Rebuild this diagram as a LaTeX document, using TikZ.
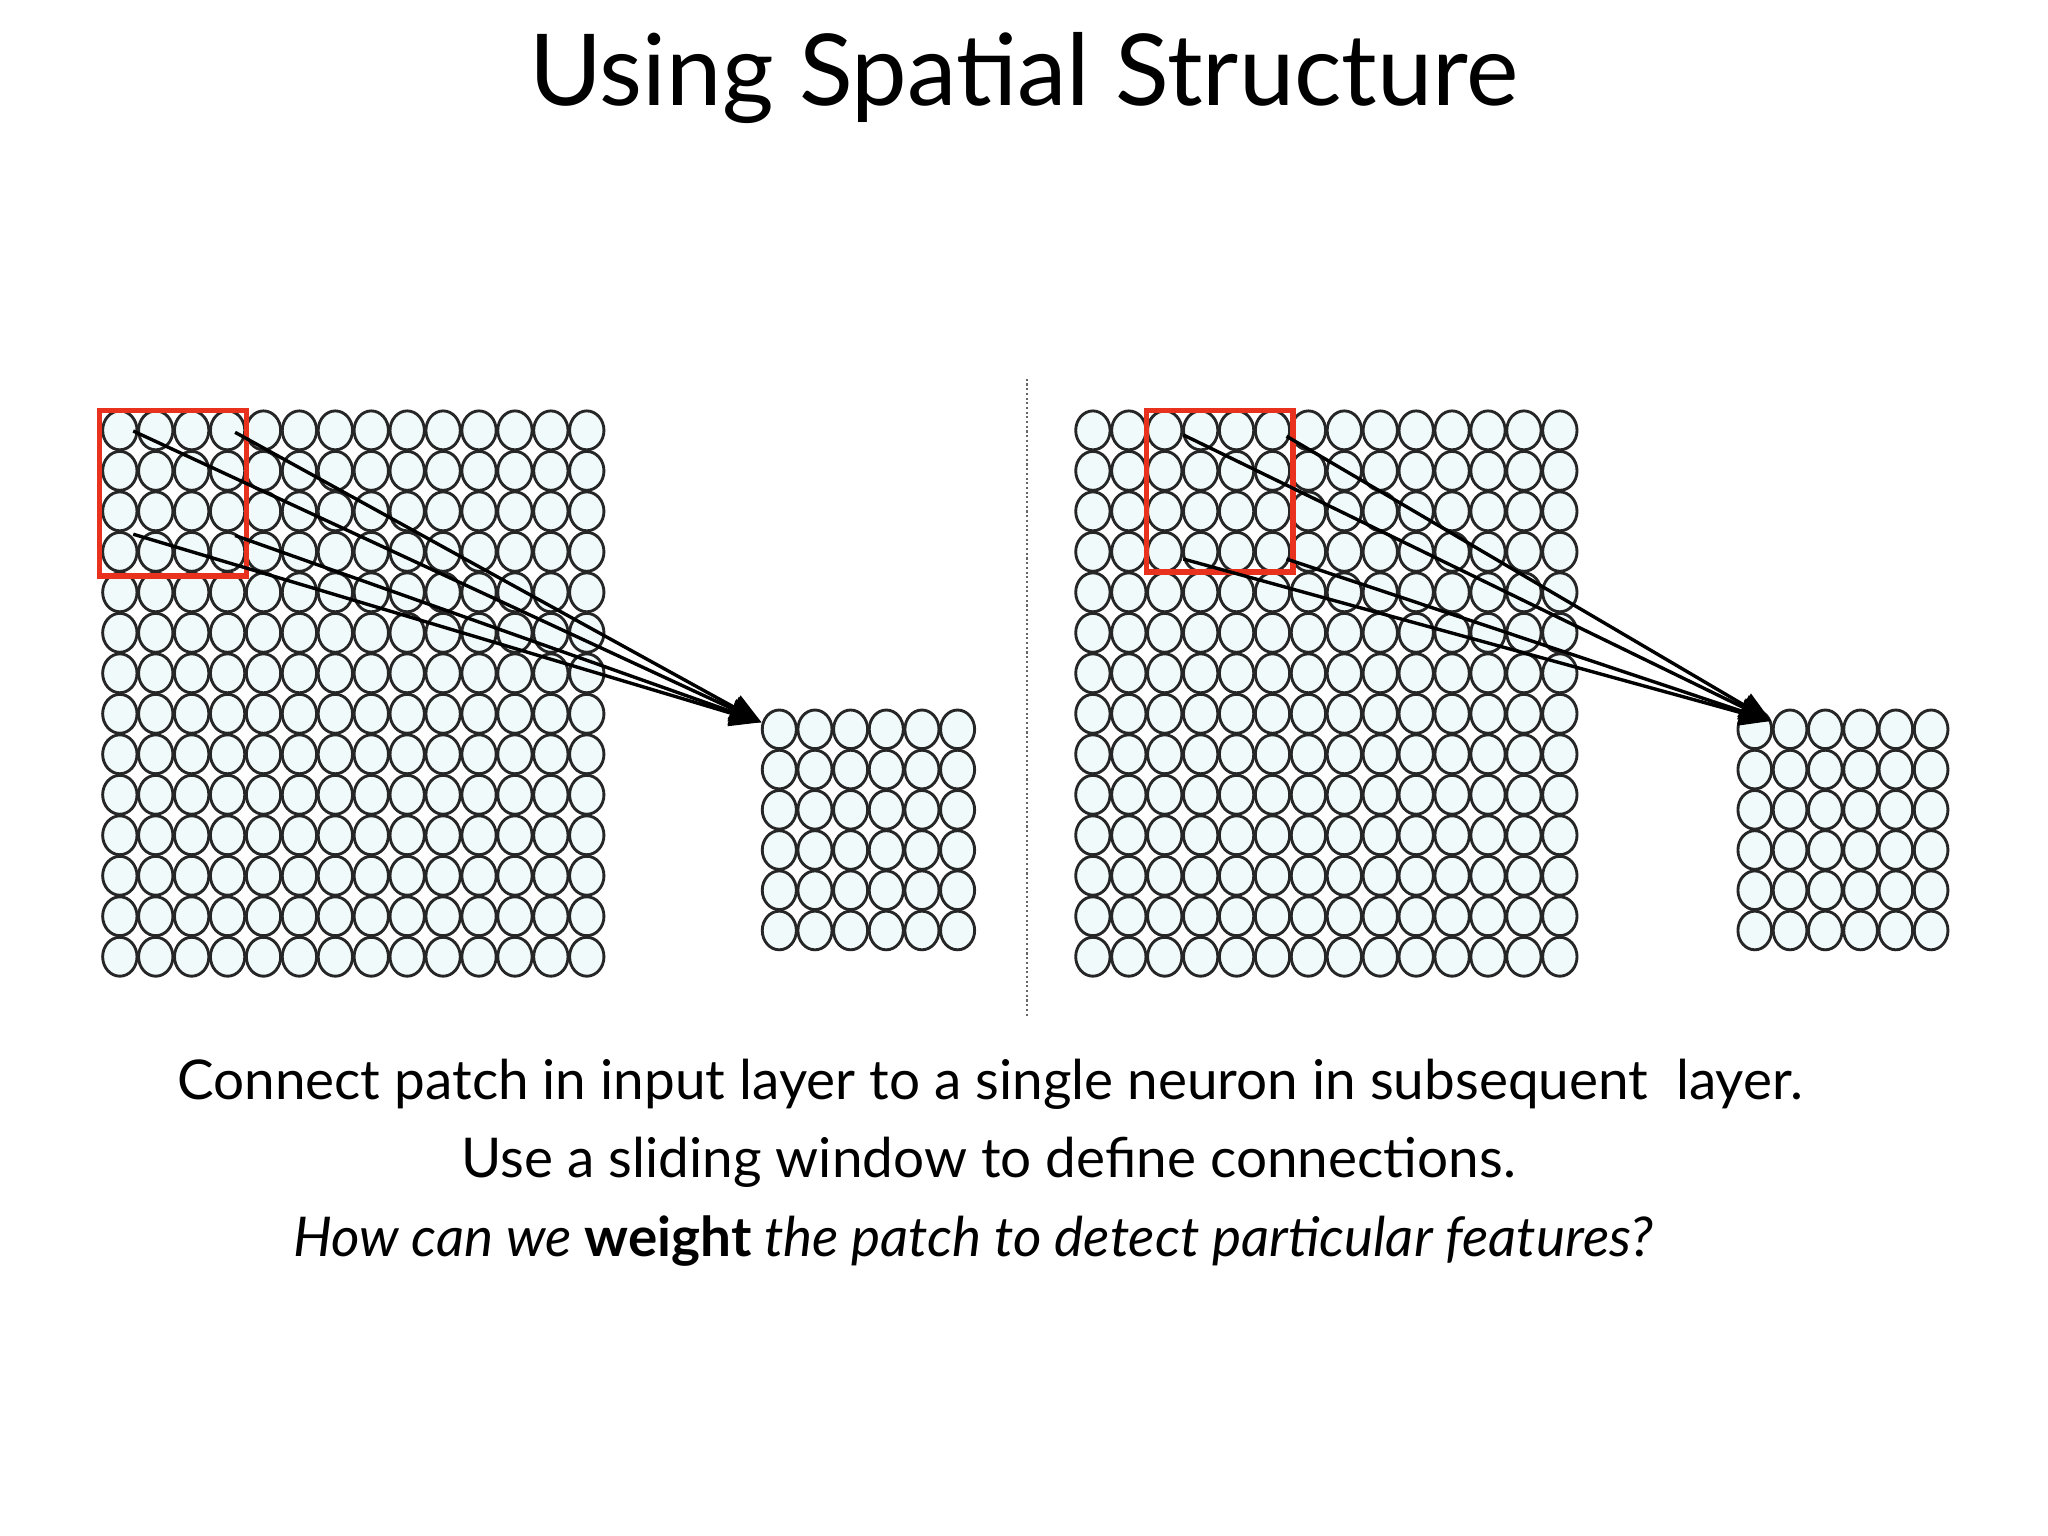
\documentclass[tikz,border=0pt]{standalone}
\usepackage{fontspec}
\setmainfont{Lato}
\usetikzlibrary{arrows.meta}
\definecolor{cellfill}{HTML}{F0FAFA}
\definecolor{patchred}{HTML}{E8321E}
\tikzset{
  cell/.style={draw=black!85, fill=cellfill, line width=1.1pt},
  patch/.style={draw=patchred, line width=2pt},
  conn/.style={line width=1.3pt, -{Triangle[length=12pt,width=10pt]}},
  plain/.style={line width=1.3pt},
}
\newcommand{\cellgrid}[5]{% x0 y0 dx dy n
  \foreach \i in {1,...,#5}{\foreach \j in {1,...,#5}{
    \draw[cell] ({#1+(\i-0.5)*#3},{#2+(\j-0.5)*#4}) ellipse ({#3/2-0.6} and {#4/2-0.6});}}}
\begin{document}
\begin{tikzpicture}[x=0.5pt,y=-0.5pt]
\useasboundingbox (0,0) rectangle (1568,1176);
\node (title) at (784,60) {\fontsize{38}{44}\selectfont Using Spatial Structure};
% left panel
\cellgrid{78}{314}{27.5}{31}{14}
\cellgrid{583}{543}{27.3}{30.8}{6}
\draw[patch] (76,314) rectangle (189,441);
\coordinate (la) at (102,330);
\coordinate (lb) at (180,331);
\coordinate (lc) at (102,409);
\coordinate (ld) at (180,410);
\coordinate (lt) at (583,553);
\foreach \s in {la,lb,lc,ld}{\draw[conn] (\s) -- (lt);}
% divider
\draw[densely dotted, line width=0.8pt, black!60] (786,290) -- (786,778);
% right panel
\cellgrid{823}{314}{27.5}{31}{14}
\cellgrid{1330}{543}{27}{30.8}{6}
\draw[patch] (878,314) rectangle (990,438);
\coordinate (ra) at (906,333);
\coordinate (rb) at (985,334);
\coordinate (rc) at (906,428);
\coordinate (rd) at (985,428);
\coordinate (rt) at (1356,552);
\foreach \s in {ra,rb,rc,rd}{\draw[conn] (\s) -- (rt);}
% text
\node (t1) at (758,830) {\fontsize{21}{25}\selectfont Connect patch in input layer to a single neuron in subsequent\ \ layer.};
\node (t2) at (757,890) {\fontsize{21}{25}\selectfont Use a sliding window to define\ connections.};
\node (t3) at (745,950) {\fontsize{21}{25}\selectfont\itshape How can we \textbf{\upshape weight} the patch to detect particular features?};
\end{tikzpicture}
\end{document}
